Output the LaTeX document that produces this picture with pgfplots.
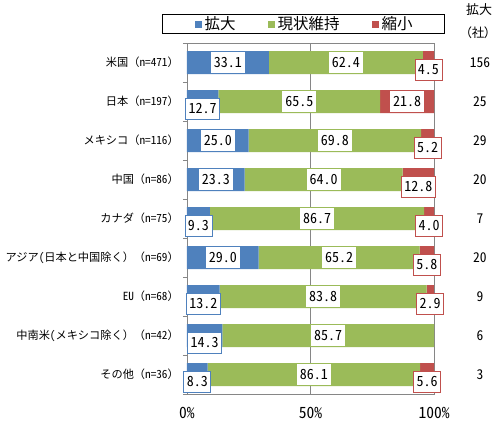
\documentclass[border=0pt]{standalone}
\usepackage{fontspec}
\setmainfont{Noto Sans CJK JP}
\newfontfamily\hw[RawFeature=+hwid]{Noto Sans CJK JP}
\newfontfamily\pal[RawFeature=+palt]{Noto Sans CJK JP}
\usepackage{pgfplots}
\usepackage{pgfplotstable}
\pgfplotsset{compat=1.18}

\definecolor{kblue}{HTML}{4F81BD}
\definecolor{kgreen}{HTML}{9BBB59}
\definecolor{kred}{HTML}{C0504D}
\definecolor{kgray}{HTML}{868686}

% b = 拡大, g = 現状維持, r = 縮小 (%), n = 拡大 (社)
% bb / rb = 1 when the label sits in a framed box below the bar
\pgfplotstableread{
y  b    g    r    n    bb  rb
0  33.1 62.4 4.5  156  0   1
1  12.7 65.5 21.8 25   1   0
2  25.0 69.8 5.2  29   0   1
3  23.3 64.0 12.8 20   0   1
4  9.3  86.7 4.0  7    1   1
5  29.0 65.2 5.8  20   0   1
6  13.2 83.8 2.9  9    1   1
7  14.3 85.7 0.0  6    1   0
8  8.3  86.1 5.6  3    1   1
}\expansion

\pgfplotsset{
  frame/.style={scale only axis, width=247pt, height=351pt,
    xmin=0, xmax=100, ymin=-0.5, ymax=8.5, y dir=reverse, clip=false},
  lbl/.style={only marks, mark=none,
    point meta=explicit symbolic, nodes near coords,
    nodes near coords align={center},
    every node near coord/.append style={anchor=center,
      font=\hw\fontsize{14}{14}\selectfont, fill=white,
      inner xsep=3pt, inner ysep=5.5pt, text height=10pt, text depth=0pt,
      line width=0.8pt}},
}

\begin{document}
\begin{tikzpicture}
\useasboundingbox (-187pt,-30pt) rectangle (310pt,394pt);
\begin{axis}[
    frame,
    xbar stacked,
    bar width=23pt,
    axis line style={kgray, line width=0.8pt},
    xtick={0,50,100},
    xticklabels={0\%,50\%,100\%},
    xticklabel style={font=\hw\fontsize{15.5}{15.5}\selectfont, inner sep=0pt, yshift=-13pt},
    xmajorgrids,
    major grid style={kgray, line width=0.8pt},
    ytick={0,1,2,3,4,5,6,7,8},
    minor ytick={-0.5,0.5,1.5,2.5,3.5,4.5,5.5,6.5,7.5,8.5},
    yticklabels={
      {米国（{\hw n=471}）},
      {日本（{\hw n=197}）},
      {メキシコ（{\hw n=116}）},
      {中国（{\hw n=86}）},
      {カナダ（{\hw n=75}）},
      {アジア{\hw(}日本と中国除く）（{\hw n=69}）},
      {{\hw EU}（{\hw n=68}）},
      {中南米{\hw(}メキシコ除く）（{\hw n=42}）},
      {その他（{\hw n=36}）}},
    yticklabel style={font=\fontsize{11.2}{11.2}\selectfont, inner sep=0pt, anchor=east, xshift=-8pt},
    tick pos=left,
    tick align=outside,
    major tick length=0pt,
    minor tick length=4pt,
    minor tick style={kgray, line width=0.8pt},
    legend columns=3,
    legend style={at={(0.4717,1)}, anchor=south, yshift=9pt,
      draw=black, line width=0.8pt,
      font=\fontsize{15.5}{15.5}\selectfont,
      inner xsep=32pt, inner ysep=2.2pt,
      nodes={inner sep=0pt},
      /tikz/every odd column/.append style={column sep=3pt},
      /tikz/every even column/.append style={column sep=32pt}},
    legend image code/.code={\fill[#1] (0pt,-3.5pt) rectangle (7pt,3.5pt);},
]
\addplot[fill=kblue, draw=none] table[x=b, y=y] {\expansion};
\addplot[fill=kgreen, draw=none] table[x=g, y=y] {\expansion};
\addplot[fill=kred, draw=none] table[x=r, y=y] {\expansion};
\legend{拡大,現状維持,縮小}
\end{axis}

% data labels, on an overlaid axis with the same frame
\begin{axis}[frame, hide axis]
\addplot[lbl, visualization depends on={\thisrow{bb} \as \flag},
  every node near coord/.append style={draw=kblue, draw opacity=\flag, yshift={-7pt*\flag}}]
  table[x expr=\thisrow{b}/2, y=y, meta=b] {\expansion};
\addplot[lbl] table[x expr=\thisrow{b}+\thisrow{g}/2, y=y, meta=g] {\expansion};
\addplot[lbl, skip coords between index={7}{8},
  visualization depends on={\thisrow{rb} \as \flag},
  every node near coord/.append style={draw=kred, draw opacity=\flag, yshift={-7pt*\flag}}]
  table[x expr=\thisrow{b}+\thisrow{g}+\thisrow{r}/2, y=y, meta=r] {\expansion};
% 拡大 (社)
\addplot[lbl, every node near coord/.append style={fill=none, font=\hw\fontsize{13.5}{13.5}\selectfont}]
  table[x expr=118.6, y=y, meta=n] {\expansion};
\end{axis}
\node[font=\fontsize{13}{13}\selectfont] at (292pt,384pt) {拡大};
\node[font=\pal\fontsize{12.5}{12.5}\selectfont] at (291pt,361.5pt) {（社）};
\end{tikzpicture}
\end{document}
